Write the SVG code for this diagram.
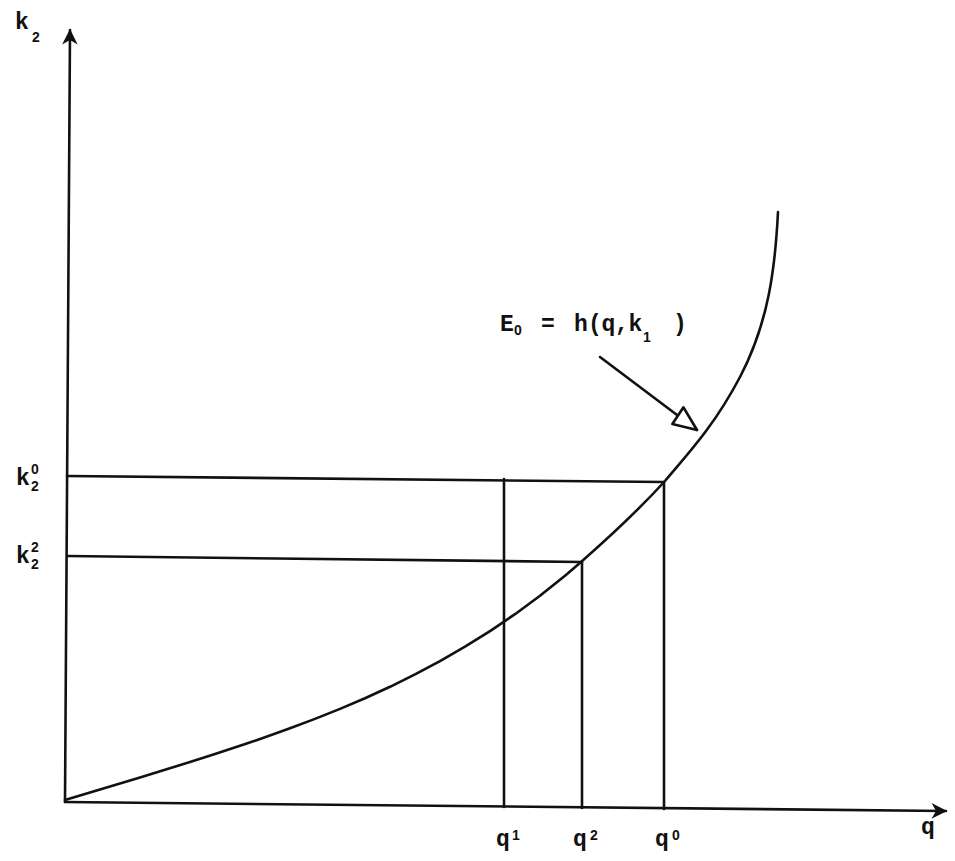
<svg xmlns="http://www.w3.org/2000/svg" width="955" height="861" viewBox="0 0 955 861">
  <defs>
    <style>
      .ln { stroke: #111; stroke-width: 2.6; fill: none; stroke-linecap: round; stroke-linejoin: round; }
      .t { font-family: "Liberation Mono", "DejaVu Sans Mono", monospace; font-weight: bold; fill: #111; }
      .big { font-size: 23px; }
      .sm { font-family: "Liberation Sans", "DejaVu Sans", sans-serif; font-size: 14px; }
    </style>
    <marker id="solid" markerUnits="userSpaceOnUse" markerWidth="20" markerHeight="20" refX="0" refY="0" viewBox="-16 -8 18 16" orient="auto" overflow="visible">
      <path d="M1,0 L-13,-7 L-9,0 L-13,7 Z" fill="#111"/>
    </marker>
    <marker id="open" markerUnits="userSpaceOnUse" markerWidth="30" markerHeight="30" refX="0" refY="0" viewBox="-25 -12 27 24" orient="auto" overflow="visible">
      <path d="M0,0 L-22,-9 L-21,9 Z" fill="#fff" stroke="#111" stroke-width="2.4" stroke-linejoin="round"/>
    </marker>
  </defs>
  <rect width="955" height="861" fill="#fff"/>

  <g id="connectors">
    <line id="y-axis" class="ln" x1="65" y1="802" x2="70" y2="30" marker-end="url(#solid)"/>
    <line id="x-axis" class="ln" x1="65" y1="802" x2="946" y2="811" marker-end="url(#solid)"/>
    <line class="ln" x1="67" y1="476" x2="664" y2="482"/>
    <line class="ln" x1="67" y1="556" x2="582" y2="562"/>
    <line class="ln" x1="504" y1="479" x2="504" y2="807"/>
    <line class="ln" x1="582" y1="562" x2="582" y2="808"/>
    <line class="ln" x1="664" y1="482" x2="664" y2="809"/>
    <path id="curve" class="ln" d="M65,800 L90,792.5 L115,785 L140,777.4 L165,769.8 L190,762 L215,754 L240,745.8 L265,737.3 L290,728.3 L315,718.9 L340,708.9 L365,698.2 L390,686.8 L415,674.4 L440,661.1 L465,646.7 L490,631.1 L515,614.2 L540,595.8 L565,575.7 L581,562 C609,537.4 637,511.8 665,481 C690,451.5 715,424.5 740,377 C768.9,322 775.2,267 778,212"/>
    <line class="ln" x1="600" y1="357" x2="697" y2="430" marker-end="url(#open)"/>
  </g>

  <g id="label-k2-axis">
    <text class="t big" x="15" y="29">k</text>
    <text class="t sm" x="32" y="42">2</text>
  </g>
  <g id="label-k2-0">
    <text class="t big" x="16" y="485">k</text>
    <text class="t sm" x="31" y="474">0</text>
    <text class="t sm" x="31" y="491">2</text>
  </g>
  <g id="label-k2-2">
    <text class="t big" x="16" y="563">k</text>
    <text class="t sm" x="31" y="552">2</text>
    <text class="t sm" x="31" y="569">2</text>
  </g>
  <g id="label-q1">
    <text class="t big" x="496" y="846">q</text>
    <text class="t sm" x="512" y="840">1</text>
  </g>
  <g id="label-q2">
    <text class="t big" x="573" y="846">q</text>
    <text class="t sm" x="590" y="840">2</text>
  </g>
  <g id="label-q0">
    <text class="t big" x="655" y="846">q</text>
    <text class="t sm" x="672" y="840">0</text>
  </g>
  <g id="label-q-axis">
    <text class="t big" x="921" y="834">q</text>
  </g>
  <g id="label-curve">
    <text class="t big" x="500" y="331">E</text>
    <text class="t sm" x="514" y="335">0</text>
    <text class="t big" x="541" y="331">=</text>
    <text class="t big" y="331"><tspan x="574">h</tspan><tspan x="588">(</tspan><tspan x="601.5">q</tspan><tspan x="615">,</tspan><tspan x="628.5">k</tspan></text>
    <text class="t sm" x="643" y="342">1</text>
    <text class="t big" x="673" y="331">)</text>
  </g>
</svg>
